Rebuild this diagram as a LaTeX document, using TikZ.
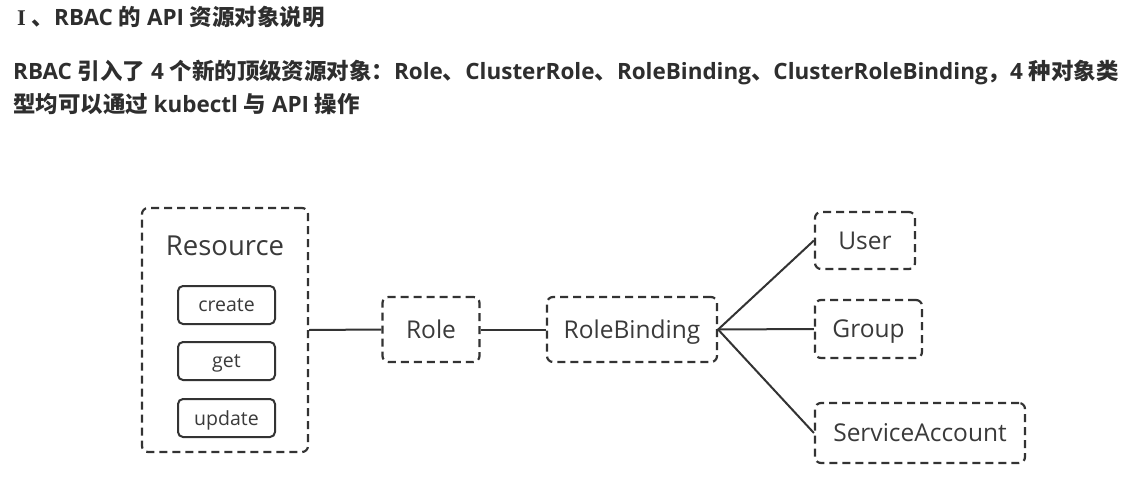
\documentclass[tikz,border=0pt]{standalone}
\usepackage{fontspec}
\setmainfont{Open Sans}
\newfontfamily\cjk{Noto Sans CJK SC}
\newfontfamily\romanI{Liberation Serif}
\newcommand{\cj}[1]{{\cjk\bfseries #1}}
\usetikzlibrary{positioning}
\definecolor{rbacline}{HTML}{333333}
\definecolor{rbactext}{HTML}{3A3A3A}
\definecolor{rbachead}{HTML}{2E2E2E}

\begin{document}
\begin{tikzpicture}[x=1pt, y=-1pt,
  every node/.style={inner sep=0pt, text=rbactext},
  head/.style={font=\bfseries\fontsize{22.45}{26}\selectfont, text=rbachead, anchor=west},
  dbox/.style={draw=rbacline, line width=2.2pt, dash pattern=on 8pt off 5pt,
               rounded corners=6pt, text depth=0pt, font=\fontsize{24.5}{28}\selectfont},
  op/.style={draw=rbacline, line width=2pt, rounded corners=5pt, text depth=0pt,
             minimum width=97pt, minimum height=38pt, font=\fontsize{19.5}{22}\selectfont},
  link/.style={draw=rbacline, line width=2pt},
]
\useasboundingbox[fill=white] (0,0) rectangle (1145,492);

% heading
\node[head] (title) at (17,17) {{\romanI\bfseries I} \cj{、}RBAC \cj{的} API \cj{资源对象说明}};
\node[head] (line1) at (13,72) {RBAC \cj{引入了} 4 \cj{个新的顶级资源对象：}Role\cj{、}ClusterRole\cj{、}RoleBinding\cj{、}ClusterRoleBinding\cj{，}4 \cj{种对象类}};
\node[head] (line2) at (13,104) {\cj{型均可以通过} kubectl \cj{与} API \cj{操作}};

% resource group
\node[dbox, minimum width=166pt, minimum height=244pt] (res) at (225,330) {};
\node[font=\fontsize{27.5}{30}\selectfont] (restitle) at (225,246) {Resource};
\node[op] (create) at (226.5,305) {create};
\node[op] (get)    at (226.5,361) {get};
\node[op] (update) at (226.5,418) {update};

% role side
\node[dbox, minimum width=97pt, minimum height=65pt]  (role)  at (431,329.5) {Role};
\node[dbox, minimum width=170pt, minimum height=65pt] (rb)    at (632,329.5) {RoleBinding};

% subjects
\node[dbox, minimum width=100pt, minimum height=57pt] (user)  at (865,240.5) {User};
\node[dbox, minimum width=107pt, minimum height=58pt] (group) at (868.5,329) {Group};
\node[dbox, minimum width=210pt, minimum height=60pt] (sa)    at (920,433) {ServiceAccount};

\draw[link] (res.east) -- (role.west);
\draw[link] (role.east) -- (rb.west);
\draw[link] (rb.east) -- (user.west);
\draw[link] (rb.east) -- (group.west);
\draw[link] (rb.east) -- (sa.west);

\end{tikzpicture}
\end{document}
